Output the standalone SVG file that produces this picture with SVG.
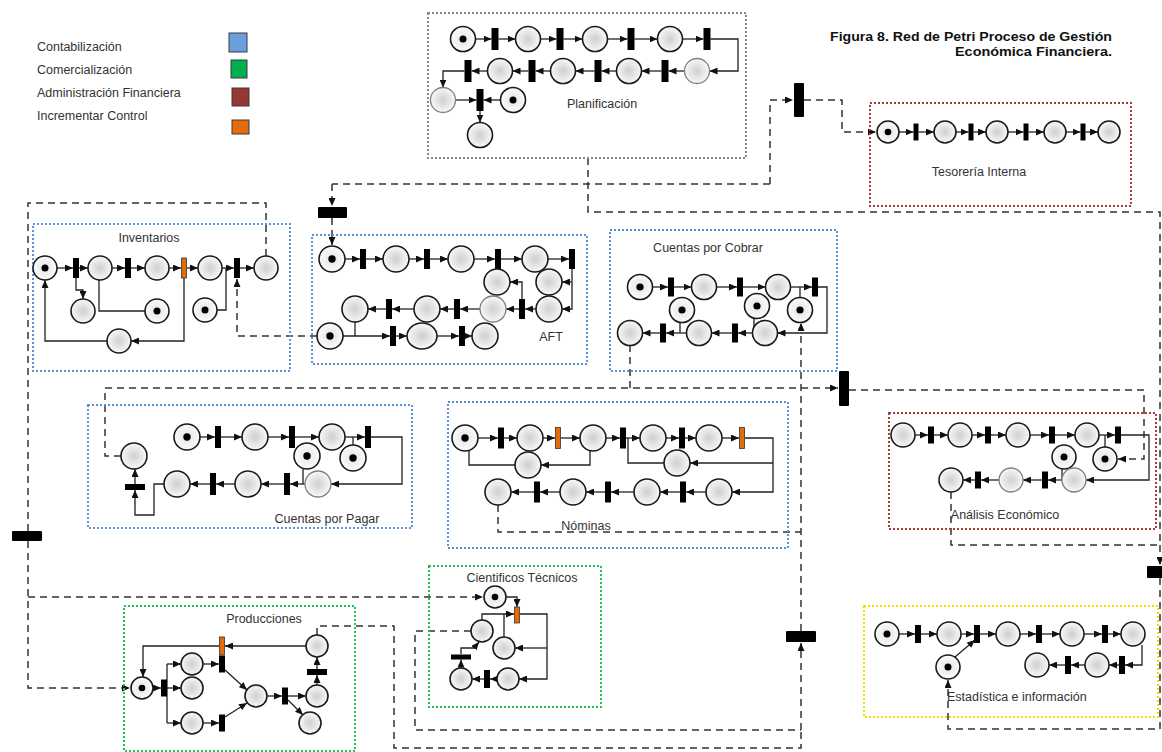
<svg xmlns="http://www.w3.org/2000/svg" width="1162" height="752" viewBox="0 0 1162 752">
<defs>
<radialGradient id="g" cx="50%" cy="50%" r="50%"><stop offset="0" stop-color="#cfcfcf"/><stop offset="1" stop-color="#f8f8f8"/></radialGradient>
<radialGradient id="gt" cx="50%" cy="50%" r="50%"><stop offset="0" stop-color="#e4e4e4"/><stop offset="1" stop-color="#fbfbfb"/></radialGradient>
<marker id="ar" viewBox="0 0 8 7" refX="8" refY="3.5" markerWidth="8" markerHeight="7" markerUnits="userSpaceOnUse" orient="auto"><path d="M0,0 L8,3.5 L0,7 z" fill="#111"/></marker>
<style>
.p{fill:url(#g);stroke:#1a1a1a;stroke-width:1.6}
.pg{fill:url(#g);stroke:#808080;stroke-width:1.3}
.pt{fill:url(#gt);stroke:#1a1a1a;stroke-width:1.6}
.tk{fill:#000}
.t{fill:#000}
.o{fill:#e36c09;stroke:#333;stroke-width:0.8}
.a{fill:none;stroke:#222;stroke-width:1.3;marker-end:url(#ar)}
.l{fill:none;stroke:#222;stroke-width:1.3}
.d{fill:none;stroke:#333;stroke-width:1.5;stroke-dasharray:7 5}
.da{fill:none;stroke:#333;stroke-width:1.5;stroke-dasharray:7 5;marker-end:url(#ar)}
.bx{fill:none;stroke-width:2;stroke-dasharray:2 2}
.lbl{font-family:"Liberation Sans",Arial,sans-serif;font-size:12.5px;fill:#333;text-anchor:middle}
.lg{font-family:"Liberation Sans",Arial,sans-serif;font-size:12.5px;fill:#333}
.tt{font-family:"Liberation Sans",Arial,sans-serif;font-size:13.5px;font-weight:bold;fill:#111;text-anchor:end}
</style>
</defs>
<rect width="1162" height="752" fill="#fff"/>

<g id="legend">
<text class="lg" x="37" y="51">Contabilización</text>
<text class="lg" x="37" y="74">Comercialización</text>
<text class="lg" x="37" y="97">Administración Financiera</text>
<text class="lg" x="37" y="120">Incrementar Control</text>
<rect x="229" y="33" width="18" height="19" fill="#6a9fdc" stroke="#3a3a3a"/>
<rect x="231" y="60" width="16" height="18" fill="#00b050" stroke="#3a3a3a"/>
<rect x="232" y="88" width="17" height="18" fill="#953735" stroke="#3a3a3a"/>
<rect x="232" y="120" width="17" height="14" fill="#e46c0a" stroke="#3a3a3a"/>
</g>
<g id="title">
<text class="tt" x="1112" y="41" textLength="282" lengthAdjust="spacingAndGlyphs">Figura 8. Red de Petri Proceso de Gestión</text>
<text class="tt" x="1112" y="56" textLength="157" lengthAdjust="spacingAndGlyphs">Económica Financiera.</text>
</g>

<g id="connectors">
<!-- Planificacion -->
<path class="a" d="M475.5,39H491.5"/><path class="a" d="M498.5,39H515.5"/><path class="a" d="M540.5,39H556.5"/><path class="a" d="M563.5,39H582.5"/><path class="a" d="M607.5,39H627.5"/><path class="a" d="M634.5,39H657.5"/><path class="a" d="M682.5,39H703.5"/>
<path class="a" d="M710.5,39H738V71H709.5"/>
<path class="a" d="M684.5,71H668.5"/><path class="a" d="M661.5,71H641.5"/><path class="a" d="M616.5,71H601.5"/><path class="a" d="M594.5,71H575.5"/><path class="a" d="M550.5,71H535.5"/><path class="a" d="M528.5,71H512.5"/><path class="a" d="M487.5,71H471.5"/>
<path class="a" d="M464.5,71H443V87.5"/>
<path class="a" d="M455.5,100H476.5"/>
<path class="a" d="M500.5,100H483.5"/>
<path class="a" d="M480,111V122.5"/>
<!-- Tesoreria -->
<path class="a" d="M899,132H913.5"/><path class="a" d="M918.5,132H934"/><path class="a" d="M956,132H968.5"/><path class="a" d="M973.5,132H986"/><path class="a" d="M1008,132H1023.5"/><path class="a" d="M1028.5,132H1044"/><path class="a" d="M1066,132H1080.5"/><path class="a" d="M1085.5,132H1098"/>
<!-- Inventarios -->
<path class="a" d="M57,268H73"/><path class="a" d="M79,268H88"/><path class="a" d="M112,268H125"/><path class="a" d="M131,268H145"/><path class="a" d="M169,268H181"/><path class="a" d="M187,268H198"/><path class="a" d="M222,268H234"/><path class="a" d="M240,268H254"/>
<path class="a" d="M76,278V290H83V299"/>
<path class="l" d="M99,280V311H145"/>
<path class="l" d="M217,310H226V268"/>
<path class="a" d="M184,278V341H131"/>
<path class="a" d="M107,341H45V280"/>
<!-- AFT -->
<path class="a" d="M345,259H360"/><path class="a" d="M366,259H383"/><path class="a" d="M409,259H424"/><path class="a" d="M430,259H448"/><path class="a" d="M474,259H495"/><path class="a" d="M501,259H522"/><path class="a" d="M548,259H569"/>
<path class="a" d="M572,269V309H562"/>
<path class="a" d="M572,282H562"/>
<path class="a" d="M522,299V282H510"/>
<path class="a" d="M536,309H525"/><path class="a" d="M519,309H506"/><path class="a" d="M480,309H460"/><path class="a" d="M454,309H440"/><path class="a" d="M414,309H392"/><path class="a" d="M386,309H368"/>
<path class="a" d="M343,336H390"/>
<path class="l" d="M355,322V336"/>
<path class="a" d="M396,336H407"/><path class="a" d="M437,336H459"/><path class="a" d="M465,336H472"/>
<!-- Cobrar -->
<path class="a" d="M652.5,287H668"/><path class="a" d="M674,287H691.5"/><path class="a" d="M716.5,287H737"/><path class="a" d="M743,287H765.5"/><path class="a" d="M790.5,287H812"/>
<path class="a" d="M818,287H827V333H777.5"/>
<path class="a" d="M752.5,333H738"/><path class="a" d="M732,333H711.5"/><path class="a" d="M686.5,333H666"/><path class="a" d="M660,333H642.5"/>
<path class="l" d="M680,322V333M754,318V333M800,297.5V287"/>
<!-- Pagar -->
<path class="a" d="M200,437H215"/><path class="a" d="M221,437H242"/><path class="a" d="M268,437H289"/><path class="a" d="M295,437H319"/><path class="a" d="M345,437H365"/>
<path class="a" d="M371,437H402V484H331"/>
<path class="a" d="M305,484H290"/><path class="a" d="M284,484H261"/><path class="a" d="M235,484H216"/><path class="a" d="M210,484H190"/>
<path class="l" d="M303,469V484M353,445V437"/>
<path class="a" d="M164,484H154V515H135V490"/>
<path class="a" d="M135,484V469"/>
<!-- Nominas -->
<path class="a" d="M478,438H498"/><path class="a" d="M504,438H517"/><path class="a" d="M543,438H555"/><path class="a" d="M561,438H580"/><path class="a" d="M606,438H620"/><path class="a" d="M626,438H640"/><path class="a" d="M666,438H679"/><path class="a" d="M685,438H696"/><path class="a" d="M722,438H739"/>
<path class="a" d="M745,438H773V492H732"/>
<path class="a" d="M773,463H690"/>
<path class="l" d="M469,450V465H515"/>
<path class="a" d="M590,451V465H541"/>
<path class="l" d="M628,438V463H664"/>
<path class="a" d="M706,492H686"/><path class="a" d="M680,492H660"/><path class="a" d="M634,492H611"/><path class="a" d="M605,492H586"/><path class="a" d="M560,492H540"/><path class="a" d="M534,492H511"/>
<!-- Analisis -->
<path class="a" d="M915,435H928"/><path class="a" d="M934,435H948"/><path class="a" d="M972,435H985"/><path class="a" d="M991,435H1006"/><path class="a" d="M1030,435H1049"/><path class="a" d="M1055,435H1075"/><path class="a" d="M1099,435H1115"/>
<path class="a" d="M1121,435H1149V480H1086"/>
<path class="a" d="M1062,480H1048"/><path class="a" d="M1042,480H1023"/><path class="a" d="M999,480H981"/><path class="a" d="M975,480H963"/>
<path class="l" d="M1062,469V480M1105,447V435"/>
<!-- Estadistica -->
<path class="a" d="M899,634H915"/><path class="a" d="M921,634H937"/><path class="a" d="M961,634H974"/><path class="a" d="M980,634H996"/><path class="a" d="M1020,634H1036"/><path class="a" d="M1042,634H1060"/><path class="a" d="M1084,634H1102"/><path class="a" d="M1108,634H1121"/>
<path class="a" d="M955,657L975,640"/>
<path class="a" d="M1142,645V665H1125"/>
<path class="a" d="M1119,665H1109"/><path class="a" d="M1085,665H1071"/><path class="a" d="M1065,665H1049"/>
<!-- Producciones -->
<path class="a" d="M153,688H161"/>
<path class="l" d="M167,664V723"/>
<path class="a" d="M167,664H181"/><path class="a" d="M167,688H181"/><path class="a" d="M167,723H181"/>
<path class="a" d="M203,664H219"/><path class="a" d="M203,723H219"/>
<path class="a" d="M225,670L247,690"/>
<path class="a" d="M225,717L247,703"/>
<path class="a" d="M267,696H282"/>
<path class="a" d="M288,696H306"/>
<path class="a" d="M288,700L303,715"/>
<path class="a" d="M317,685V675"/>
<path class="a" d="M317,669V657"/>
<path class="a" d="M306,646H225"/>
<path class="a" d="M219,646H143V677"/>
<!-- Cientificos -->
<path class="a" d="M506,597H517V607"/>
<path class="a" d="M482,620V614H514"/>
<path class="l" d="M504,637V614"/>
<path class="a" d="M520,614H547V679H519"/>
<path class="a" d="M547,648H515"/>
<path class="a" d="M497,679H490"/><path class="a" d="M484,679H472"/>
<path class="a" d="M461,668V659.5"/>
<path class="a" d="M461,654V648H474L479,642"/>

<!-- dashed inter-net connectors -->
<path class="d" d="M588,158V212H1160V545"/>
<path class="da" d="M1160,545V565"/>
<path class="d" d="M770,184H332"/>
<path class="da" d="M332,184V206"/>
<path class="da" d="M332,218V245"/>
<path class="da" d="M770,184V100H793"/>
<path class="da" d="M804,100H842V132H876"/>
<path class="d" d="M266,256V203H28V531"/>
<path class="da" d="M28,541V688H130"/>
<path class="da" d="M28,597H483"/>
<path class="da" d="M317,336H237V279"/>
<path class="da" d="M121,456H105V388H838"/>
<path class="d" d="M630,345V388"/>
<path class="da" d="M849,390H1144V459H1118"/>
<path class="da" d="M801,631V323"/>
<path class="d" d="M471,631H415V730H801"/>
<path class="d" d="M317,635V626H394V748H801V730"/>
<path class="da" d="M801,730V643"/>
<path class="d" d="M498,505V532H801"/>
<path class="d" d="M951,492V545H1160"/>
<path class="da" d="M1160,578V729H948V680"/>
</g>

<g id="bars">
<rect class="t" x="318" y="207" width="29" height="11" rx="1"/>
<rect class="t" x="794" y="83" width="10" height="34" rx="1"/>
<rect class="t" x="839" y="371" width="10" height="35" rx="1"/>
<rect class="t" x="12" y="531" width="30" height="10" rx="1"/>
<rect class="t" x="786" y="631" width="30" height="11" rx="1"/>
<rect class="t" x="1147" y="566" width="30" height="12" rx="1"/>
</g>

<g id="planificacion">
<rect class="bx" x="428" y="13" width="318" height="145" stroke="#888"/>
<circle class="pt" cx="463" cy="39" r="12.5"/><circle class="tk" cx="463" cy="39" r="3.5"/>
<circle class="p" cx="528" cy="39" r="12.5"/><circle class="p" cx="595" cy="39" r="12.5"/><circle class="p" cx="670" cy="39" r="12.5"/>
<rect class="t" x="491.5" y="28" width="7" height="22"/><rect class="t" x="556.5" y="28" width="7" height="22"/><rect class="t" x="627.5" y="28" width="7" height="22"/><rect class="t" x="703.5" y="28" width="7" height="22"/>
<circle class="pg" cx="697" cy="71" r="12.5"/><circle class="p" cx="629" cy="71" r="12.5"/><circle class="p" cx="563" cy="71" r="12.5"/><circle class="p" cx="500" cy="71" r="12.5"/>
<rect class="t" x="661.5" y="60" width="7" height="22"/><rect class="t" x="594.5" y="60" width="7" height="22"/><rect class="t" x="528.5" y="60" width="7" height="22"/><rect class="t" x="464.5" y="60" width="7" height="22"/>
<circle class="pg" cx="443" cy="100" r="12.5"/>
<rect class="t" x="476.5" y="89" width="7" height="22"/>
<circle class="pt" cx="513" cy="100" r="12.5"/><circle class="tk" cx="513" cy="100" r="3.5"/>
<circle class="p" cx="480" cy="135" r="12.5"/>
<text class="lbl" x="602" y="108">Planificación</text>
</g>

<g id="tesoreria">
<rect class="bx" x="870" y="103" width="261" height="103" stroke="#a83a3a"/>
<circle class="pt" cx="888" cy="132" r="11"/><circle class="tk" cx="888" cy="132" r="3.3"/>
<circle class="p" cx="945" cy="132" r="11"/><circle class="p" cx="997" cy="132" r="11"/><circle class="p" cx="1055" cy="132" r="11"/><circle class="p" cx="1109" cy="132" r="11"/>
<rect class="t" x="913.5" y="123.5" width="5" height="17"/><rect class="t" x="968.5" y="123.5" width="5" height="17"/><rect class="t" x="1023.5" y="123.5" width="5" height="17"/><rect class="t" x="1080.5" y="123.5" width="5" height="17"/>
<text class="lbl" x="979" y="176">Tesorería Interna</text>
</g>

<g id="inventarios">
<rect class="bx" x="33" y="224" width="257" height="147" stroke="#5b93da"/>
<text class="lbl" x="149" y="242">Inventarios</text>
<circle class="pt" cx="45" cy="268" r="12"/><circle class="tk" cx="45" cy="268" r="3.5"/>
<circle class="p" cx="100" cy="268" r="12"/><circle class="p" cx="157" cy="268" r="12"/><circle class="p" cx="210" cy="268" r="12"/><circle class="p" cx="266" cy="268" r="12"/>
<rect class="t" x="73" y="258" width="6" height="20"/><rect class="t" x="125" y="258" width="6" height="20"/><rect class="o" x="181.5" y="258" width="5" height="20"/><rect class="t" x="234" y="258" width="6" height="20"/>
<circle class="p" cx="83" cy="311" r="12"/>
<circle class="pt" cx="157" cy="311" r="12"/><circle class="tk" cx="157" cy="311" r="3.5"/>
<circle class="pt" cx="205" cy="310" r="12"/><circle class="tk" cx="205" cy="310" r="3.5"/>
<circle class="p" cx="119" cy="341" r="12"/>
</g>

<g id="aft">
<rect class="bx" x="312" y="235" width="275" height="129" stroke="#5b93da"/>
<circle class="pt" cx="332" cy="259" r="13"/><circle class="tk" cx="332" cy="259" r="3.7"/>
<circle class="p" cx="396" cy="259" r="13"/><circle class="p" cx="461" cy="259" r="13"/><circle class="p" cx="535" cy="259" r="13"/>
<rect class="t" x="360" y="249" width="6" height="20"/><rect class="t" x="424" y="249" width="6" height="20"/><rect class="t" x="495" y="249" width="6" height="20"/><rect class="t" x="569" y="249" width="6" height="20"/>
<circle class="p" cx="549" cy="282" r="13"/><circle class="p" cx="497" cy="282" r="13"/>
<circle class="p" cx="549" cy="309" r="13"/><circle class="pg" cx="493" cy="309" r="13"/><circle class="p" cx="427" cy="309" r="13"/><circle class="p" cx="355" cy="309" r="13"/>
<rect class="t" x="519" y="299" width="6" height="20"/><rect class="t" x="454" y="299" width="6" height="20"/><rect class="t" x="386" y="299" width="6" height="20"/>
<circle class="pt" cx="330" cy="336" r="13"/><circle class="tk" cx="330" cy="336" r="3.7"/>
<rect class="t" x="390" y="326" width="6" height="20"/>
<ellipse class="p" cx="422" cy="336" rx="15" ry="13"/>
<rect class="t" x="459" y="326" width="6" height="20"/>
<circle class="p" cx="485" cy="336" r="13"/>
<text class="lbl" x="551" y="341">AFT</text>
</g>

<g id="cobrar">
<rect class="bx" x="610" y="230" width="227" height="141" stroke="#5b93da"/>
<text class="lbl" x="708" y="252">Cuentas por Cobrar</text>
<circle class="pt" cx="640" cy="287" r="12.5"/><circle class="tk" cx="640" cy="287" r="3.6"/>
<circle class="p" cx="704" cy="287" r="12.5"/><circle class="p" cx="778" cy="287" r="12.5"/>
<rect class="t" x="668" y="277.5" width="6" height="19"/><rect class="t" x="737" y="277.5" width="6" height="19"/><rect class="t" x="812" y="277.5" width="6" height="19"/>
<circle class="pt" cx="682" cy="310" r="12.5"/><circle class="tk" cx="682" cy="310" r="3.6"/>
<circle class="pt" cx="757" cy="306" r="12.5"/><circle class="tk" cx="757" cy="306" r="3.6"/>
<circle class="pt" cx="800" cy="310" r="12.5"/><circle class="tk" cx="800" cy="310" r="3.6"/>
<circle class="p" cx="765" cy="333" r="12.5"/><circle class="p" cx="699" cy="333" r="12.5"/><circle class="p" cx="630" cy="333" r="12.5"/>
<rect class="t" x="732" y="323.5" width="6" height="19"/><rect class="t" x="660" y="323.5" width="6" height="19"/>
</g>

<g id="pagar">
<rect class="bx" x="88" y="405" width="324" height="123" stroke="#5b93da"/>
<circle class="pt" cx="187" cy="437" r="13"/><circle class="tk" cx="187" cy="437" r="3.7"/>
<circle class="p" cx="255" cy="437" r="13"/><circle class="p" cx="332" cy="437" r="13"/>
<rect class="t" x="215" y="426" width="6" height="22"/><rect class="t" x="289" y="426" width="6" height="22"/><rect class="t" x="365" y="426" width="6" height="22"/>
<circle class="pt" cx="307" cy="456" r="13"/><circle class="tk" cx="307" cy="456" r="3.7"/>
<circle class="pt" cx="353" cy="458" r="13"/><circle class="tk" cx="353" cy="458" r="3.7"/>
<circle class="pg" cx="318" cy="484" r="13"/><circle class="p" cx="248" cy="484" r="13"/><circle class="p" cx="177" cy="484" r="13"/>
<rect class="t" x="284" y="473" width="6" height="22"/><rect class="t" x="210" y="473" width="6" height="22"/>
<circle class="p" cx="134" cy="456" r="13"/>
<rect class="t" x="125" y="484" width="20" height="6"/>
<text class="lbl" x="327" y="523">Cuentas por Pagar</text>
</g>

<g id="nominas">
<rect class="bx" x="448" y="402" width="340" height="146" stroke="#5b93da"/>
<circle class="pt" cx="465" cy="438" r="13"/><circle class="tk" cx="465" cy="438" r="3.7"/>
<circle class="p" cx="530" cy="438" r="13"/><circle class="p" cx="593" cy="438" r="13"/><circle class="p" cx="653" cy="438" r="13"/><circle class="p" cx="709" cy="438" r="13"/>
<rect class="t" x="498" y="427.5" width="6" height="21"/><rect class="o" x="555.5" y="427.5" width="5" height="21"/><rect class="t" x="620" y="427.5" width="6" height="21"/><rect class="t" x="679" y="427.5" width="6" height="21"/><rect class="o" x="739.5" y="427.5" width="5" height="21"/>
<circle class="p" cx="528" cy="465" r="13"/><circle class="p" cx="677" cy="463" r="13"/>
<circle class="p" cx="719" cy="492" r="13"/><circle class="p" cx="647" cy="492" r="13"/><circle class="p" cx="573" cy="492" r="13"/><circle class="p" cx="498" cy="492" r="13"/>
<rect class="t" x="680" y="481.5" width="6" height="21"/><rect class="t" x="605" y="481.5" width="6" height="21"/><rect class="t" x="534" y="481.5" width="6" height="21"/>
<text class="lbl" x="586" y="530">Nóminas</text>
</g>

<g id="analisis">
<rect class="bx" x="889" y="413" width="267" height="116" stroke="#a83a3a"/>
<circle class="p" cx="903" cy="435" r="12"/><circle class="p" cx="960" cy="435" r="12"/><circle class="p" cx="1018" cy="435" r="12"/><circle class="p" cx="1087" cy="435" r="12"/>
<rect class="t" x="928" y="426.5" width="6" height="17"/><rect class="t" x="985" y="426.5" width="6" height="17"/><rect class="t" x="1049" y="426.5" width="6" height="17"/><rect class="t" x="1115" y="426.5" width="6" height="17"/>
<circle class="pt" cx="1064" cy="457" r="12"/><circle class="tk" cx="1064" cy="457" r="3.5"/>
<circle class="pt" cx="1105" cy="459" r="12"/><circle class="tk" cx="1105" cy="459" r="3.5"/>
<circle class="pg" cx="1074" cy="480" r="12"/><circle class="pg" cx="1011" cy="480" r="12"/><circle class="p" cx="951" cy="480" r="12"/>
<rect class="t" x="1042" y="471.5" width="6" height="17"/><rect class="t" x="975" y="471.5" width="6" height="17"/>
<text class="lbl" x="1005" y="519">Análisis Económico</text>
</g>

<g id="estadistica">
<rect class="bx" x="864" y="606" width="294" height="111" stroke="#f0e000"/>
<circle class="pt" cx="887" cy="634" r="12"/><circle class="tk" cx="887" cy="634" r="3.5"/>
<circle class="p" cx="949" cy="634" r="12"/><circle class="p" cx="1008" cy="634" r="12"/><circle class="p" cx="1072" cy="634" r="12"/><circle class="p" cx="1133" cy="634" r="12"/>
<rect class="t" x="915" y="625" width="6" height="18"/><rect class="t" x="974" y="625" width="6" height="18"/><rect class="t" x="1036" y="625" width="6" height="18"/><rect class="t" x="1102" y="625" width="6" height="18"/>
<circle class="pt" cx="948" cy="667" r="12"/><circle class="tk" cx="948" cy="667" r="3.5"/>
<rect class="t" x="1119" y="656" width="6" height="18"/><circle class="p" cx="1097" cy="665" r="12"/>
<rect class="t" x="1065" y="656" width="6" height="18"/><circle class="p" cx="1037" cy="665" r="12"/>
<text class="lbl" x="947" y="701" style="text-anchor:start">Estadística e información</text>
</g>

<g id="producciones">
<rect class="bx" x="124" y="606" width="231" height="145" stroke="#1fbf5a"/>
<text class="lbl" x="264" y="623">Producciones</text>
<circle class="pt" cx="142" cy="688" r="11"/><circle class="tk" cx="142" cy="688" r="3.3"/>
<rect class="t" x="161" y="679.5" width="6" height="17"/>
<circle class="p" cx="192" cy="664" r="11"/><circle class="p" cx="192" cy="688" r="11"/><circle class="p" cx="192" cy="723" r="11"/>
<rect class="t" x="219" y="655.5" width="6" height="17"/><rect class="t" x="219" y="714.5" width="6" height="17"/>
<circle class="p" cx="256" cy="696" r="11"/>
<rect class="t" x="282" y="687.5" width="6" height="17"/>
<circle class="p" cx="317" cy="696" r="11"/><circle class="p" cx="310" cy="723" r="11"/>
<rect class="t" x="307" y="669" width="20" height="6"/>
<circle class="p" cx="317" cy="646" r="11"/>
<rect class="o" x="219.5" y="637" width="5" height="18"/>
</g>

<g id="cientificos">
<rect class="bx" x="429" y="566" width="172" height="141" stroke="#1fbf5a"/>
<text class="lbl" x="522" y="582">Cientificos Técnicos</text>
<circle class="pt" cx="495" cy="597" r="11"/><circle class="tk" cx="495" cy="597" r="3.3"/>
<rect class="o" x="514.5" y="607" width="5" height="16"/>
<circle class="p" cx="482" cy="631" r="11"/>
<circle class="p" cx="504" cy="648" r="11"/>
<circle class="p" cx="508" cy="679" r="11"/>
<rect class="t" x="484" y="670" width="6" height="18"/>
<circle class="p" cx="461" cy="679" r="11"/>
<rect class="t" x="451" y="654.5" width="20" height="5"/>
</g>
</svg>
